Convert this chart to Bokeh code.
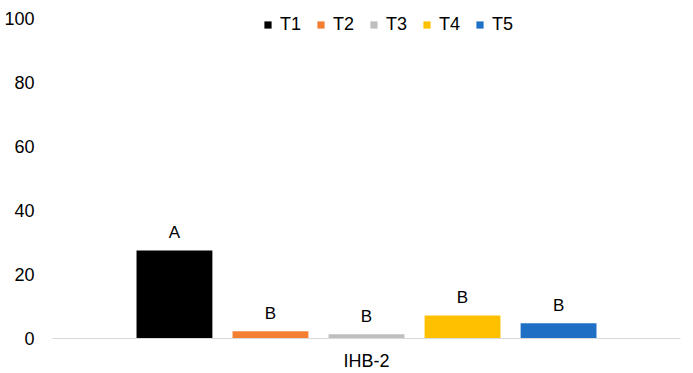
from bokeh.plotting import figure
from bokeh.models import FactorRange, Range1d, ColumnDataSource, Legend, LegendItem
from bokeh.embed import file_html
from bokeh.resources import INLINE
from bokeh.core.properties import value

group = "IHB-2"
treatments = ["T1", "T2", "T3", "T4", "T5"]
values = [27.5, 2.3, 1.3, 7.2, 4.8]
letters = ["A", "B", "B", "B", "B"]
colors = ["#000000", "#F47F30", "#BFBFBF", "#FFC000", "#1F70C4"]
y_ticks = [0, 20, 40, 60, 80, 100]

FONT = "Liberation Sans"

factors = [(group, t) for t in treatments]
src = ColumnDataSource(dict(x=factors, top=values, letter=letters, color=colors, label=treatments))

p = figure(width=688, height=373,
           x_range=FactorRange(*factors, range_padding=0.308),
           y_range=Range1d(0, 103.125),
           output_backend="svg", toolbar_location=None)
p.min_border_left = 52
p.min_border_right = 8
p.min_border_top = 8
p.min_border_bottom = 35
p.outline_line_color = None
p.xgrid.visible = False
p.ygrid.visible = False

r = p.vbar(x="x", top="top", width=0.79, fill_color="color", line_color=None, source=src)

p.text(x="x", y="top", text="letter", y_offset=-18, text_align="center",
       text_baseline="middle", text_font=value(FONT), text_font_size="17px",
       text_color="#000000", source=src)

# legend
items = [LegendItem(label=t, renderers=[r], index=i) for i, t in enumerate(treatments)]
legend = Legend(items=items, orientation="horizontal", location=(211, 303),
                glyph_width=9, glyph_height=9, label_standoff=8, spacing=15,
                label_height=20,
                label_text_font=FONT, label_text_font_size="18px",
                label_text_color="#000000",
                padding=0, margin=0, border_line_alpha=0, background_fill_alpha=0)
p.add_layout(legend, "center")

# y axis
p.yaxis.ticker = y_ticks
p.yaxis.axis_line_color = None
p.yaxis.major_tick_line_color = None
p.yaxis.minor_tick_line_color = None
p.yaxis.major_tick_out = 0
p.yaxis.minor_tick_out = 0
p.yaxis.major_label_standoff = 18
p.yaxis.major_label_text_font = FONT
p.yaxis.major_label_text_font_size = "18px"
p.yaxis.major_label_text_color = "#000000"

# x axis
p.xaxis.axis_line_color = "#D9D9D9"
p.xaxis.axis_line_width = 1
p.xaxis.major_tick_line_color = None
p.xaxis.minor_tick_line_color = None
p.xaxis.major_tick_out = 0
p.xaxis.major_label_standoff = 12
p.xaxis.major_label_text_font_size = "1px"
p.xaxis.major_label_text_alpha = 0
p.xaxis.group_text_font = FONT
p.xaxis.group_text_font_size = "18px"
p.xaxis.group_text_font_style = "normal"
p.xaxis.group_text_color = "#000000"
p.xaxis.separator_line_alpha = 0

open("out.html", "w").write(file_html(p, INLINE))
